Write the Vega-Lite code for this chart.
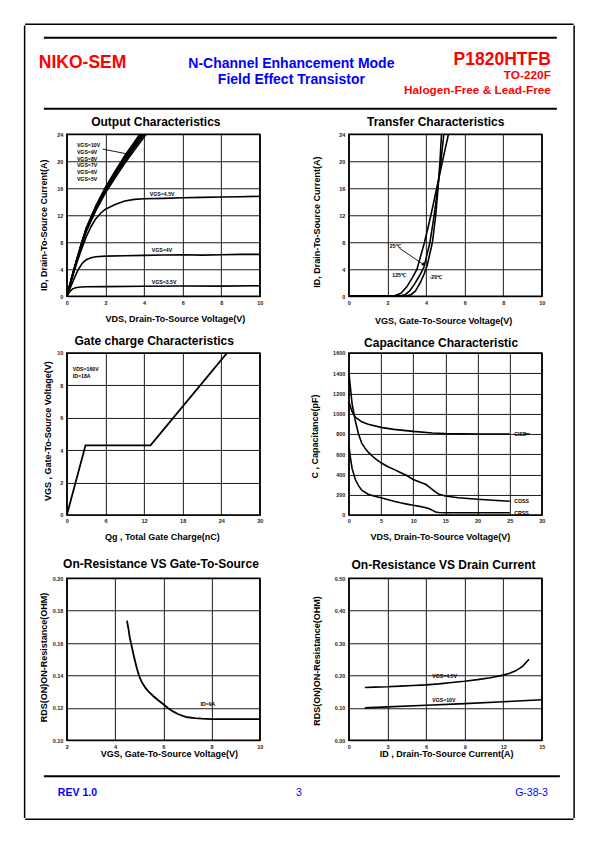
{
  "$schema": "https://vega.github.io/schema/vega-lite/v6.json",
  "padding": {"left": 23.25, "top": 23.25, "right": 0, "bottom": 0},
  "background": "white",
  "center": true,
  "spacing": 0,
  "datasets": {
    "empty": [],
    "header": [
      {"role": "brand", "slot": "left", "text": "NIKO-SEM"},
      {"role": "title", "slot": "center", "text": "N-Channel Enhancement Mode\nField Effect Transistor"},
      {"role": "part", "slot": "right", "text": "P1820HTFB"},
      {"role": "pkg", "slot": "right", "text": "TO-220F\nHalogen-Free & Lead-Free"}
    ],
    "header_rules": [{"edge": "top"}, {"edge": "bottom"}],
    "footer": [
      {"role": "rev", "slot": "left", "text": "REV 1.0"},
      {"role": "page", "slot": "center", "text": "3"},
      {"role": "doc", "slot": "right", "text": "G-38-3"},
      {"role": "spacer", "slot": "left", "text": "."}
    ],
    "footer_rules": [{"edge": "top"}],
    "out_curves": [
      {"vgs": "10V", "vds": 0, "id": 0}, {"vgs": "10V", "vds": 0.25, "id": 2.78}, {"vgs": "10V", "vds": 0.5, "id": 5.36}, {"vgs": "10V", "vds": 0.75, "id": 7.83}, {"vgs": "10V", "vds": 1, "id": 10.09}, {"vgs": "10V", "vds": 1.5, "id": 13.39}, {"vgs": "10V", "vds": 2, "id": 16.17}, {"vgs": "10V", "vds": 2.5, "id": 18.54}, {"vgs": "10V", "vds": 3, "id": 20.81}, {"vgs": "10V", "vds": 3.5, "id": 22.87}, {"vgs": "10V", "vds": 4, "id": 24.93}, {"vgs": "10V", "vds": 4.5, "id": 26.78},
      {"vgs": "9V", "vds": 0, "id": 0}, {"vgs": "9V", "vds": 0.25, "id": 2.75}, {"vgs": "9V", "vds": 0.5, "id": 5.3}, {"vgs": "9V", "vds": 0.75, "id": 7.75}, {"vgs": "9V", "vds": 1, "id": 10.0}, {"vgs": "9V", "vds": 1.5, "id": 13.26}, {"vgs": "9V", "vds": 2, "id": 16.01}, {"vgs": "9V", "vds": 2.5, "id": 18.36}, {"vgs": "9V", "vds": 3, "id": 20.6}, {"vgs": "9V", "vds": 3.5, "id": 22.64}, {"vgs": "9V", "vds": 4, "id": 24.68}, {"vgs": "9V", "vds": 4.5, "id": 26.52},
      {"vgs": "8V", "vds": 0, "id": 0}, {"vgs": "8V", "vds": 0.25, "id": 2.73}, {"vgs": "8V", "vds": 0.5, "id": 5.25}, {"vgs": "8V", "vds": 0.75, "id": 7.68}, {"vgs": "8V", "vds": 1, "id": 9.9}, {"vgs": "8V", "vds": 1.5, "id": 13.13}, {"vgs": "8V", "vds": 2, "id": 15.86}, {"vgs": "8V", "vds": 2.5, "id": 18.18}, {"vgs": "8V", "vds": 3, "id": 20.4}, {"vgs": "8V", "vds": 3.5, "id": 22.42}, {"vgs": "8V", "vds": 4, "id": 24.44}, {"vgs": "8V", "vds": 4.5, "id": 26.26},
      {"vgs": "7V", "vds": 0, "id": 0}, {"vgs": "7V", "vds": 0.25, "id": 2.7}, {"vgs": "7V", "vds": 0.5, "id": 5.2}, {"vgs": "7V", "vds": 0.75, "id": 7.6}, {"vgs": "7V", "vds": 1, "id": 9.8}, {"vgs": "7V", "vds": 1.5, "id": 13.0}, {"vgs": "7V", "vds": 2, "id": 15.7}, {"vgs": "7V", "vds": 2.5, "id": 18.0}, {"vgs": "7V", "vds": 3, "id": 20.2}, {"vgs": "7V", "vds": 3.5, "id": 22.2}, {"vgs": "7V", "vds": 4, "id": 24.2}, {"vgs": "7V", "vds": 4.5, "id": 26.0},
      {"vgs": "6V", "vds": 0, "id": 0}, {"vgs": "6V", "vds": 0.25, "id": 2.67}, {"vgs": "6V", "vds": 0.5, "id": 5.15}, {"vgs": "6V", "vds": 0.75, "id": 7.52}, {"vgs": "6V", "vds": 1, "id": 9.7}, {"vgs": "6V", "vds": 1.5, "id": 12.87}, {"vgs": "6V", "vds": 2, "id": 15.54}, {"vgs": "6V", "vds": 2.5, "id": 17.82}, {"vgs": "6V", "vds": 3, "id": 20.0}, {"vgs": "6V", "vds": 3.5, "id": 21.98}, {"vgs": "6V", "vds": 4, "id": 23.96}, {"vgs": "6V", "vds": 4.5, "id": 25.74},
      {"vgs": "5V", "vds": 0, "id": 0}, {"vgs": "5V", "vds": 0.25, "id": 2.63}, {"vgs": "5V", "vds": 0.5, "id": 5.07}, {"vgs": "5V", "vds": 0.75, "id": 7.41}, {"vgs": "5V", "vds": 1, "id": 9.56}, {"vgs": "5V", "vds": 1.5, "id": 12.68}, {"vgs": "5V", "vds": 2, "id": 15.31}, {"vgs": "5V", "vds": 2.5, "id": 17.55}, {"vgs": "5V", "vds": 3, "id": 19.7}, {"vgs": "5V", "vds": 3.5, "id": 21.65}, {"vgs": "5V", "vds": 4, "id": 23.6}, {"vgs": "5V", "vds": 4.5, "id": 25.35},
      {"vgs": "4.5V", "vds": 0, "id": 0}, {"vgs": "4.5V", "vds": 0.25, "id": 2.5}, {"vgs": "4.5V", "vds": 0.5, "id": 4.8}, {"vgs": "4.5V", "vds": 0.75, "id": 6.9}, {"vgs": "4.5V", "vds": 1, "id": 8.8}, {"vgs": "4.5V", "vds": 1.25, "id": 10.3}, {"vgs": "4.5V", "vds": 1.5, "id": 11.5}, {"vgs": "4.5V", "vds": 1.75, "id": 12.3}, {"vgs": "4.5V", "vds": 2, "id": 12.9}, {"vgs": "4.5V", "vds": 2.5, "id": 13.6}, {"vgs": "4.5V", "vds": 3, "id": 14.1}, {"vgs": "4.5V", "vds": 3.5, "id": 14.35}, {"vgs": "4.5V", "vds": 4, "id": 14.45}, {"vgs": "4.5V", "vds": 5, "id": 14.5}, {"vgs": "4.5V", "vds": 6, "id": 14.6}, {"vgs": "4.5V", "vds": 7, "id": 14.65}, {"vgs": "4.5V", "vds": 8, "id": 14.7}, {"vgs": "4.5V", "vds": 9, "id": 14.75}, {"vgs": "4.5V", "vds": 10, "id": 14.8},
      {"vgs": "4V", "vds": 0, "id": 0}, {"vgs": "4V", "vds": 0.2, "id": 1.4}, {"vgs": "4V", "vds": 0.4, "id": 2.8}, {"vgs": "4V", "vds": 0.6, "id": 4.0}, {"vgs": "4V", "vds": 0.8, "id": 4.9}, {"vgs": "4V", "vds": 1, "id": 5.4}, {"vgs": "4V", "vds": 1.25, "id": 5.7}, {"vgs": "4V", "vds": 1.5, "id": 5.85}, {"vgs": "4V", "vds": 2, "id": 5.95}, {"vgs": "4V", "vds": 3, "id": 6.0}, {"vgs": "4V", "vds": 4, "id": 6.05}, {"vgs": "4V", "vds": 5, "id": 6.1}, {"vgs": "4V", "vds": 6, "id": 6.15}, {"vgs": "4V", "vds": 7, "id": 6.1}, {"vgs": "4V", "vds": 8, "id": 6.15}, {"vgs": "4V", "vds": 9, "id": 6.2}, {"vgs": "4V", "vds": 10, "id": 6.2},
      {"vgs": "3.5V", "vds": 0, "id": 0}, {"vgs": "3.5V", "vds": 0.15, "id": 0.7}, {"vgs": "3.5V", "vds": 0.3, "id": 1.1}, {"vgs": "3.5V", "vds": 0.5, "id": 1.3}, {"vgs": "3.5V", "vds": 0.75, "id": 1.38}, {"vgs": "3.5V", "vds": 1, "id": 1.4}, {"vgs": "3.5V", "vds": 2, "id": 1.42}, {"vgs": "3.5V", "vds": 4, "id": 1.48}, {"vgs": "3.5V", "vds": 6, "id": 1.52}, {"vgs": "3.5V", "vds": 8, "id": 1.5}, {"vgs": "3.5V", "vds": 10, "id": 1.55}
    ],
    "out_labels": [
      {"text": "VGS=10V", "vds": 0.52, "id": 22.4}, {"text": "VGS=9V", "vds": 0.52, "id": 21.35}, {"text": "VGS=8V", "vds": 0.52, "id": 20.4}, {"text": "VGS=7V", "vds": 0.52, "id": 19.45}, {"text": "VGS=6V", "vds": 0.52, "id": 18.4}, {"text": "VGS=5V", "vds": 0.52, "id": 17.4},
      {"text": "VGS=4.5V", "vds": 4.3, "id": 15.1}, {"text": "VGS=4V", "vds": 4.4, "id": 6.85}, {"text": "VGS=3.5V", "vds": 4.4, "id": 2.1}
    ],
    "out_arrow": [{"vds": 1.86, "id": 21.8}, {"vds": 3.28, "id": 21.0}],
    "out_head": [{"vds": 3.28, "id": 21.0}],
    "tr_curves": [
      {"temp": "125C", "vgs": 0, "id": 0.05}, {"temp": "125C", "vgs": 2.0, "id": 0.06}, {"temp": "125C", "vgs": 2.4, "id": 0.1}, {"temp": "125C", "vgs": 2.7, "id": 0.45}, {"temp": "125C", "vgs": 3.0, "id": 1.4}, {"temp": "125C", "vgs": 3.3, "id": 2.8}, {"temp": "125C", "vgs": 3.53, "id": 4.0}, {"temp": "125C", "vgs": 3.92, "id": 8.0}, {"temp": "125C", "vgs": 4.25, "id": 12.0}, {"temp": "125C", "vgs": 4.55, "id": 16.0}, {"temp": "125C", "vgs": 4.85, "id": 20.0}, {"temp": "125C", "vgs": 5.16, "id": 24.0}, {"temp": "125C", "vgs": 5.25, "id": 25.2},
      {"temp": "25C", "vgs": 0, "id": 0.05}, {"temp": "25C", "vgs": 2.7, "id": 0.06}, {"temp": "25C", "vgs": 2.9, "id": 0.2}, {"temp": "25C", "vgs": 3.15, "id": 0.8}, {"temp": "25C", "vgs": 3.4, "id": 1.8}, {"temp": "25C", "vgs": 3.65, "id": 3.0}, {"temp": "25C", "vgs": 3.89, "id": 4.3}, {"temp": "25C", "vgs": 4.2, "id": 8.0}, {"temp": "25C", "vgs": 4.42, "id": 12.0}, {"temp": "25C", "vgs": 4.6, "id": 16.0}, {"temp": "25C", "vgs": 4.77, "id": 20.0}, {"temp": "25C", "vgs": 4.92, "id": 24.0}, {"temp": "25C", "vgs": 5.0, "id": 25.2},
      {"temp": "-20C", "vgs": 0, "id": 0.05}, {"temp": "-20C", "vgs": 3.0, "id": 0.06}, {"temp": "-20C", "vgs": 3.2, "id": 0.2}, {"temp": "-20C", "vgs": 3.45, "id": 0.8}, {"temp": "-20C", "vgs": 3.7, "id": 2.0}, {"temp": "-20C", "vgs": 3.9, "id": 3.3}, {"temp": "-20C", "vgs": 4.06, "id": 4.6}, {"temp": "-20C", "vgs": 4.33, "id": 8.0}, {"temp": "-20C", "vgs": 4.5, "id": 12.0}, {"temp": "-20C", "vgs": 4.62, "id": 16.0}, {"temp": "-20C", "vgs": 4.72, "id": 20.0}, {"temp": "-20C", "vgs": 4.8, "id": 24.0}, {"temp": "-20C", "vgs": 4.85, "id": 25.2}
    ],
    "tr_labels": [
      {"text": "25℃", "vgs": 2.12, "id": 7.5}, {"text": "125℃", "vgs": 2.25, "id": 3.2}, {"text": "-20℃", "vgs": 4.18, "id": 2.9}
    ],
    "tr_arrow": [{"vgs": 2.63, "id": 7.1}, {"vgs": 3.87, "id": 4.7}],
    "tr_head": [{"vgs": 3.87, "id": 4.7}],
    "gate_curve": [
      {"qg": 0, "vgs": 0}, {"qg": 2.9, "vgs": 4.3}, {"qg": 13, "vgs": 4.3}, {"qg": 24.9, "vgs": 10}
    ],
    "gate_labels": [
      {"text": "VDS=160V", "qg": 0.93, "vgs": 9.0}, {"text": "ID=18A", "qg": 0.93, "vgs": 8.55}
    ],
    "cap_curves": [
      {"series": "CISS", "vds": 0, "c": 1120}, {"series": "CISS", "vds": 0.5, "c": 1020}, {"series": "CISS", "vds": 1, "c": 965}, {"series": "CISS", "vds": 2, "c": 920}, {"series": "CISS", "vds": 3, "c": 895}, {"series": "CISS", "vds": 5, "c": 865}, {"series": "CISS", "vds": 7, "c": 845}, {"series": "CISS", "vds": 10, "c": 825}, {"series": "CISS", "vds": 13, "c": 810}, {"series": "CISS", "vds": 15, "c": 805}, {"series": "CISS", "vds": 20, "c": 800}, {"series": "CISS", "vds": 25, "c": 800},
      {"series": "CISS-lead", "vds": 27.3, "c": 800}, {"series": "CISS-lead", "vds": 28.1, "c": 800},
      {"series": "COSS", "vds": 0, "c": 1410}, {"series": "COSS", "vds": 0.25, "c": 1250}, {"series": "COSS", "vds": 0.5, "c": 1100}, {"series": "COSS", "vds": 1, "c": 930}, {"series": "COSS", "vds": 1.5, "c": 800}, {"series": "COSS", "vds": 2, "c": 710}, {"series": "COSS", "vds": 2.5, "c": 660}, {"series": "COSS", "vds": 3, "c": 620}, {"series": "COSS", "vds": 4, "c": 560}, {"series": "COSS", "vds": 5, "c": 515}, {"series": "COSS", "vds": 6, "c": 478}, {"series": "COSS", "vds": 7, "c": 450}, {"series": "COSS", "vds": 8, "c": 420}, {"series": "COSS", "vds": 9, "c": 390}, {"series": "COSS", "vds": 10, "c": 350}, {"series": "COSS", "vds": 11, "c": 325}, {"series": "COSS", "vds": 12, "c": 300}, {"series": "COSS", "vds": 12.5, "c": 275}, {"series": "COSS", "vds": 13, "c": 250}, {"series": "COSS", "vds": 13.5, "c": 225}, {"series": "COSS", "vds": 14, "c": 205}, {"series": "COSS", "vds": 15, "c": 187}, {"series": "COSS", "vds": 17, "c": 170}, {"series": "COSS", "vds": 20, "c": 155}, {"series": "COSS", "vds": 23, "c": 143}, {"series": "COSS", "vds": 25, "c": 135},
      {"series": "CRSS", "vds": 0, "c": 690}, {"series": "CRSS", "vds": 0.25, "c": 560}, {"series": "CRSS", "vds": 0.5, "c": 460}, {"series": "CRSS", "vds": 1, "c": 350}, {"series": "CRSS", "vds": 1.5, "c": 290}, {"series": "CRSS", "vds": 2, "c": 245}, {"series": "CRSS", "vds": 3, "c": 205}, {"series": "CRSS", "vds": 4, "c": 185}, {"series": "CRSS", "vds": 5, "c": 170}, {"series": "CRSS", "vds": 6, "c": 152}, {"series": "CRSS", "vds": 7, "c": 135}, {"series": "CRSS", "vds": 8, "c": 120}, {"series": "CRSS", "vds": 9, "c": 107}, {"series": "CRSS", "vds": 10, "c": 95}, {"series": "CRSS", "vds": 11, "c": 85}, {"series": "CRSS", "vds": 12, "c": 72}, {"series": "CRSS", "vds": 12.5, "c": 62}, {"series": "CRSS", "vds": 13, "c": 45}, {"series": "CRSS", "vds": 13.5, "c": 30}, {"series": "CRSS", "vds": 14, "c": 24}, {"series": "CRSS", "vds": 15, "c": 22}, {"series": "CRSS", "vds": 20, "c": 22}, {"series": "CRSS", "vds": 25, "c": 22}
    ],
    "cap_labels": [
      {"text": "CISS", "vds": 25.7, "c": 800}, {"text": "COSS", "vds": 25.7, "c": 138}, {"text": "CRSS", "vds": 25.7, "c": 23}
    ],
    "rv_curve": [
      {"vgs": 4.49, "r": 0.1738}, {"vgs": 4.55, "r": 0.169}, {"vgs": 4.6, "r": 0.164}, {"vgs": 4.7, "r": 0.157}, {"vgs": 4.8, "r": 0.1505}, {"vgs": 4.9, "r": 0.1445}, {"vgs": 5.0, "r": 0.1395}, {"vgs": 5.1, "r": 0.136}, {"vgs": 5.25, "r": 0.1325}, {"vgs": 5.4, "r": 0.1298}, {"vgs": 5.6, "r": 0.127}, {"vgs": 5.8, "r": 0.1245}, {"vgs": 6.0, "r": 0.1222}, {"vgs": 6.2, "r": 0.1198}, {"vgs": 6.4, "r": 0.1178}, {"vgs": 6.6, "r": 0.1162}, {"vgs": 6.8, "r": 0.115}, {"vgs": 7.0, "r": 0.1142}, {"vgs": 7.3, "r": 0.1136}, {"vgs": 7.6, "r": 0.1133}, {"vgs": 8, "r": 0.1131}, {"vgs": 9, "r": 0.113}, {"vgs": 10, "r": 0.113}
    ],
    "rv_labels": [{"text": "ID=9A", "vgs": 7.54, "r": 0.1223}],
    "ri_curves": [
      {"vgs": "4.5V", "id": 1.24, "r": 0.163}, {"vgs": "4.5V", "id": 2, "r": 0.164}, {"vgs": "4.5V", "id": 3, "r": 0.165}, {"vgs": "4.5V", "id": 4, "r": 0.167}, {"vgs": "4.5V", "id": 5, "r": 0.169}, {"vgs": "4.5V", "id": 6, "r": 0.171}, {"vgs": "4.5V", "id": 7, "r": 0.174}, {"vgs": "4.5V", "id": 8, "r": 0.178}, {"vgs": "4.5V", "id": 9, "r": 0.182}, {"vgs": "4.5V", "id": 10, "r": 0.187}, {"vgs": "4.5V", "id": 11, "r": 0.193}, {"vgs": "4.5V", "id": 12, "r": 0.201}, {"vgs": "4.5V", "id": 12.5, "r": 0.207}, {"vgs": "4.5V", "id": 13, "r": 0.215}, {"vgs": "4.5V", "id": 13.5, "r": 0.228}, {"vgs": "4.5V", "id": 14, "r": 0.25},
      {"vgs": "10V", "id": 1.24, "r": 0.1}, {"vgs": "10V", "id": 3, "r": 0.103}, {"vgs": "10V", "id": 6, "r": 0.108}, {"vgs": "10V", "id": 9, "r": 0.113}, {"vgs": "10V", "id": 12, "r": 0.119}, {"vgs": "10V", "id": 15, "r": 0.125}
    ],
    "ri_labels": [
      {"text": "VGS=4.5V", "id": 6.48, "r": 0.199}, {"text": "VGS=10V", "id": 6.48, "r": 0.1247}
    ]
  },
  "vconcat": [
    {
      "width": 547,
      "height": 0.01,
      "view": {"stroke": "black", "strokeWidth": 1.5},
      "data": {"name": "empty"},
      "mark": "point",
      "encoding": {}
    },
    {
      "spacing": 12.25,
      "hconcat": [
        {
          "width": 0.01,
          "height": 791,
          "view": {"stroke": "black", "strokeWidth": 1.5},
          "data": {"name": "empty"},
          "mark": "point",
          "encoding": {}
        },
        {
          "spacing": 5,
          "vconcat": [
            {
              "spacing": 0,
              "hconcat": [
                {"width": 0.01, "height": 0.01, "view": {"stroke": null}, "data": {"name": "empty"}, "mark": "point", "encoding": {}},
                {
                  "width": 513,
                  "height": 82.5,
                  "view": {"stroke": null},
                  "layer": [
                    {
                      "data": {"name": "header_rules"},
                      "mark": {"type": "rule", "strokeWidth": 2, "color": "black"},
                      "encoding": {"y": {"field": "edge", "type": "nominal", "scale": {"type": "point", "domain": ["top", "bottom"], "padding": 0.081, "align": 1}, "axis": null}}
                    },
                    {
                      "data": {"name": "header"},
                      "transform": [{"filter": "datum.role === 'brand'"}],
                      "mark": {"type": "text", "align": "left", "baseline": "alphabetic", "dx": -5, "dy": 0.25, "fontSize": 17.5, "fontWeight": "bold", "color": "#ff0000"},
                      "encoding": {"x": {"field": "slot", "type": "nominal", "scale": {"type": "point", "domain": ["left", "center", "right"], "padding": 0}, "axis": null}, "text": {"field": "text"}}
                    },
                    {
                      "data": {"name": "header"},
                      "transform": [{"filter": "datum.role === 'title'"}],
                      "mark": {"type": "text", "align": "center", "baseline": "alphabetic", "lineBreak": "\n", "lineHeight": 15.6, "dx": -9, "dy": 0.5, "fontSize": 14, "fontWeight": "bold", "color": "#0000ff"},
                      "encoding": {"x": {"field": "slot", "type": "nominal", "scale": {"type": "point", "domain": ["left", "center", "right"], "padding": 0}, "axis": null}, "text": {"field": "text"}}
                    },
                    {
                      "data": {"name": "header"},
                      "transform": [{"filter": "datum.role === 'part'"}],
                      "mark": {"type": "text", "align": "right", "baseline": "alphabetic", "dx": -6, "dy": -2.75, "fontSize": 17.5, "fontWeight": "bold", "color": "#ff0000"},
                      "encoding": {"x": {"field": "slot", "type": "nominal", "scale": {"type": "point", "domain": ["left", "center", "right"], "padding": 0}, "axis": null}, "text": {"field": "text"}}
                    },
                    {
                      "data": {"name": "header"},
                      "transform": [{"filter": "datum.role === 'pkg'"}],
                      "mark": {"type": "text", "align": "right", "baseline": "alphabetic", "lineBreak": "\n", "lineHeight": 15, "dx": -6, "dy": 11.25, "fontSize": 11.8, "fontWeight": "bold", "color": "#ff0000"},
                      "encoding": {"x": {"field": "slot", "type": "nominal", "scale": {"type": "point", "domain": ["left", "center", "right"], "padding": 0}, "axis": null}, "text": {"field": "text"}}
                    }
                  ]
                }
              ]
            },
            {
              "spacing": 0,
              "hconcat": [
                {"width": 0.01, "height": 0.01, "view": {"stroke": null}, "data": {"name": "empty"}, "mark": "point", "encoding": {}},
                {
                  "columns": 2,
                  "bounds": "flush",
                  "spacing": {"row": 56.7, "column": 89},
                  "concat": [
                    {
                      "width": 193,
                      "height": 162,
                      "title": {"text": "Output Characteristics", "dx": -7.5, "offset": 2.9},
                      "encoding": {
                        "x": {"field": "vds", "type": "quantitative", "scale": {"domain": [0, 10], "nice": false, "zero": false}, "axis": {"values": [0, 2, 4, 6, 8, 10], "title": "VDS, Drain-To-Source Voltage(V)", "titleX": 108, "titleY": 25.6}},
                        "y": {"field": "id", "type": "quantitative", "scale": {"domain": [0, 24], "nice": false}, "axis": {"values": [0, 4, 8, 12, 16, 20, 24], "title": "ID, Drain-To-Source Current(A)", "titleX": -20, "titleY": 90.5}}
                      },
                      "layer": [
                        {"data": {"name": "out_curves"}, "mark": {"type": "line", "clip": true, "strokeWidth": 1.6}, "encoding": {"detail": {"field": "vgs", "type": "nominal"}}},
                        {"data": {"name": "out_arrow"}, "mark": {"type": "line", "strokeWidth": 0.9}},
                        {"data": {"name": "out_head"}, "mark": {"type": "point", "shape": "triangle-right", "filled": true, "size": 16, "angle": 10, "opacity": 1}},
                        {"data": {"name": "out_labels"}, "mark": {"type": "text", "align": "left", "baseline": "middle"}, "encoding": {"text": {"field": "text"}}}
                      ]
                    },
                    {
                      "width": 193,
                      "height": 162,
                      "title": {"text": "Transfer Characteristics", "dx": -9.7, "offset": 2.9},
                      "encoding": {
                        "x": {"field": "vgs", "type": "quantitative", "scale": {"domain": [0, 10], "nice": false, "zero": false}, "axis": {"values": [0, 2, 4, 6, 8, 10], "title": "VGS, Gate-To-Source Voltage(V)", "titleX": 94.3, "titleY": 27}},
                        "y": {"field": "id", "type": "quantitative", "scale": {"domain": [0, 24], "nice": false}, "axis": {"values": [0, 4, 8, 12, 16, 20, 24], "title": "ID, Drain-To-Source Current(A)", "titleX": -29, "titleY": 87.4}}
                      },
                      "layer": [
                        {"data": {"name": "tr_curves"}, "mark": {"type": "line", "clip": true, "strokeWidth": 1.6}, "encoding": {"detail": {"field": "temp", "type": "nominal"}}},
                        {"data": {"name": "tr_arrow"}, "mark": {"type": "line", "strokeWidth": 0.9}},
                        {"data": {"name": "tr_head"}, "mark": {"type": "point", "shape": "triangle-right", "filled": true, "size": 14, "angle": 34, "opacity": 1}},
                        {"data": {"name": "tr_labels"}, "mark": {"type": "text", "align": "left", "baseline": "middle"}, "encoding": {"text": {"field": "text"}}}
                      ]
                    },
                    {
                      "width": 193,
                      "height": 162,
                      "title": {"text": "Gate charge Characteristics", "dx": -9.2, "offset": 2.6},
                      "encoding": {
                        "x": {"field": "qg", "type": "quantitative", "scale": {"domain": [0, 30], "nice": false, "zero": false}, "axis": {"values": [0, 6, 12, 18, 24, 30], "title": ["Qg , Total Gate Charge(nC)", ""], "titleLineHeight": 8.8, "titleX": 95, "titleY": 25}},
                        "y": {"field": "vgs", "type": "quantitative", "scale": {"domain": [0, 10], "nice": false}, "axis": {"values": [0, 2, 4, 6, 8, 10], "title": "VGS , Gate-To-Source Voltage(V)", "titleX": -16.7, "titleY": 77.7}}
                      },
                      "layer": [
                        {"data": {"name": "gate_curve"}, "mark": {"type": "line", "clip": true, "strokeWidth": 1.8}},
                        {"data": {"name": "gate_labels"}, "mark": {"type": "text", "align": "left", "baseline": "middle"}, "encoding": {"text": {"field": "text"}}}
                      ]
                    },
                    {
                      "width": 193,
                      "height": 162,
                      "title": {"text": "Capacitance Characteristic", "dx": -4.3, "offset": 1.3},
                      "encoding": {
                        "x": {"field": "vds", "type": "quantitative", "scale": {"domain": [0, 30], "nice": false, "zero": false}, "axis": {"values": [0, 5, 10, 15, 20, 25, 30], "title": ["VDS, Drain-To-Source Voltage(V)", ""], "titleLineHeight": 8.8, "titleX": 91, "titleY": 25}},
                        "y": {"field": "c", "type": "quantitative", "scale": {"domain": [0, 1600], "nice": false}, "axis": {"values": [0, 200, 400, 600, 800, 1000, 1200, 1400, 1600], "format": "d", "title": "C , Capacitance(pF)", "titleX": -31, "titleY": 83}}
                      },
                      "layer": [
                        {"data": {"name": "cap_curves"}, "mark": {"type": "line", "clip": true, "strokeWidth": 1.6}, "encoding": {"detail": {"field": "series", "type": "nominal"}}},
                        {"data": {"name": "cap_labels"}, "mark": {"type": "text", "align": "left", "baseline": "middle"}, "encoding": {"text": {"field": "text"}}}
                      ]
                    }
                  ]
                }
              ]
            },
            {
              "spacing": 0,
              "hconcat": [
                {"width": 0.01, "height": 0.01, "view": {"stroke": null}, "data": {"name": "empty"}, "mark": "point", "encoding": {}},
                {
                  "columns": 2,
                  "bounds": "flush",
                  "spacing": {"row": 60, "column": 89},
                  "concat": [
                    {
                      "width": 193,
                      "height": 162,
                      "title": {"text": "On-Resistance VS Gate-To-Source", "dx": -2.4, "offset": 5.0},
                      "encoding": {
                        "x": {"field": "vgs", "type": "quantitative", "scale": {"domain": [2, 10], "nice": false, "zero": false}, "axis": {"values": [2, 4, 6, 8, 10], "title": ["VGS, Gate-To-Source Voltage(V)", ""], "titleLineHeight": 10.5, "titleX": 102, "titleY": 16}},
                        "y": {"field": "r", "type": "quantitative", "scale": {"domain": [0.1, 0.2], "nice": false, "zero": false}, "axis": {"values": [0.1, 0.12, 0.14, 0.16, 0.18, 0.2], "format": ".2f", "title": "RDS(ON)ON-Resistance(OHM)", "titleX": -20, "titleY": 78.8}}
                      },
                      "layer": [
                        {"data": {"name": "rv_curve"}, "mark": {"type": "line", "clip": true, "strokeWidth": 1.8}},
                        {"data": {"name": "rv_labels"}, "mark": {"type": "text", "align": "left", "baseline": "middle"}, "encoding": {"text": {"field": "text"}}}
                      ]
                    },
                    {
                      "width": 193,
                      "height": 162,
                      "title": {"text": "On-Resistance VS Drain Current", "dx": -1.8, "offset": 4.0},
                      "encoding": {
                        "x": {"field": "id", "type": "quantitative", "scale": {"domain": [0, 15], "nice": false, "zero": false}, "axis": {"values": [0, 3, 6, 9, 12, 15], "title": ["ID , Drain-To-Source Current(A)", ""], "titleLineHeight": 9.8, "titleX": 97.3, "titleY": 16.7}},
                        "y": {"field": "r", "type": "quantitative", "scale": {"domain": [0, 0.5], "nice": false}, "axis": {"values": [0, 0.1, 0.2, 0.3, 0.4, 0.5], "format": ".2f", "title": "RDS(ON)ON-Resistance(OHM)", "titleX": -29, "titleY": 82.3}}
                      },
                      "layer": [
                        {"data": {"name": "ri_curves"}, "mark": {"type": "line", "clip": true, "strokeWidth": 1.6}, "encoding": {"detail": {"field": "vgs", "type": "nominal"}}},
                        {"data": {"name": "ri_labels"}, "mark": {"type": "text", "align": "left", "baseline": "middle"}, "encoding": {"text": {"field": "text"}}}
                      ]
                    }
                  ]
                }
              ]
            },
            {
              "spacing": 0,
              "hconcat": [
                {"width": 0.01, "height": 0.01, "view": {"stroke": null}, "data": {"name": "empty"}, "mark": "point", "encoding": {}},
                {
                  "width": 516,
                  "height": 25,
                  "view": {"stroke": null},
                  "layer": [
                    {
                      "data": {"name": "footer_rules"},
                      "mark": {"type": "rule", "strokeWidth": 2, "color": "black"},
                      "encoding": {"y": {"field": "edge", "type": "nominal", "scale": {"type": "point", "domain": ["top", "bottom"], "padding": 0}, "axis": null}}
                    },
                    {
                      "data": {"name": "footer"},
                      "transform": [{"filter": "datum.role === 'rev'"}],
                      "mark": {"type": "text", "align": "left", "baseline": "alphabetic", "dx": 14, "dy": 7.5, "fontSize": 10.5, "fontWeight": "bold", "color": "#0000ff"},
                      "encoding": {"x": {"field": "slot", "type": "nominal", "scale": {"type": "point", "domain": ["left", "center", "right"], "padding": 0}, "axis": null}, "text": {"field": "text"}}
                    },
                    {
                      "data": {"name": "footer"},
                      "transform": [{"filter": "datum.role === 'page'"}],
                      "mark": {"type": "text", "align": "center", "baseline": "alphabetic", "dx": -3, "dy": 7.5, "fontSize": 10.5, "fontWeight": "normal", "color": "#0000ff"},
                      "encoding": {"x": {"field": "slot", "type": "nominal", "scale": {"type": "point", "domain": ["left", "center", "right"], "padding": 0}, "axis": null}, "text": {"field": "text"}}
                    },
                    {
                      "data": {"name": "footer"},
                      "transform": [{"filter": "datum.role === 'doc'"}],
                      "mark": {"type": "text", "align": "right", "baseline": "alphabetic", "dx": -12, "dy": 7.5, "fontSize": 10.5, "fontWeight": "normal", "color": "#0000ff"},
                      "encoding": {"x": {"field": "slot", "type": "nominal", "scale": {"type": "point", "domain": ["left", "center", "right"], "padding": 0}, "axis": null}, "text": {"field": "text"}}
                    },
                    {
                      "data": {"name": "footer"},
                      "transform": [{"filter": "datum.role === 'spacer'"}],
                      "mark": {"type": "text", "align": "left", "baseline": "alphabetic", "dx": -5, "dy": 7.5, "fontSize": 10.5, "opacity": 0},
                      "encoding": {"x": {"field": "slot", "type": "nominal", "scale": {"type": "point", "domain": ["left", "center", "right"], "padding": 0}, "axis": null}, "text": {"field": "text"}}
                    }
                  ]
                }
              ]
            }
          ]
        },
        {
          "width": 0.01,
          "height": 791,
          "view": {"stroke": "black", "strokeWidth": 1.5},
          "data": {"name": "empty"},
          "mark": "point",
          "encoding": {}
        }
      ]
    },
    {
      "width": 547,
      "height": 0.01,
      "view": {"stroke": "black", "strokeWidth": 1.5},
      "data": {"name": "empty"},
      "mark": "point",
      "encoding": {}
    }
  ],
  "config": {
    "font": "Liberation Sans",
    "view": {"stroke": "black", "strokeWidth": 1.6},
    "mark": {"color": "black"},
    "line": {"color": "black"},
    "text": {"font": "Liberation Sans", "fontWeight": "bold", "fontSize": 5.2, "color": "black"},
    "title": {"font": "Liberation Sans", "fontSize": 12, "fontWeight": "bold", "color": "black", "anchor": "middle", "frame": "group", "baseline": "alphabetic"},
    "axis": {
      "grid": true, "gridColor": "black", "gridWidth": 0.9, "gridOpacity": 1,
      "domain": false, "ticks": false, "tickSize": 0,
      "labelFont": "Liberation Sans", "labelFontSize": 5.5, "labelFontWeight": "bold", "labelColor": "#222222",
      "labelPadding": 4, "labelFlush": false, "labelOverlap": false,
      "titleFont": "Liberation Sans", "titleFontSize": 9, "titleFontWeight": "bold", "titleColor": "black",
      "titleBaseline": "alphabetic", "titleAlign": "center"
    },
    "axisY": {"titleAngle": 270}
  }
}
